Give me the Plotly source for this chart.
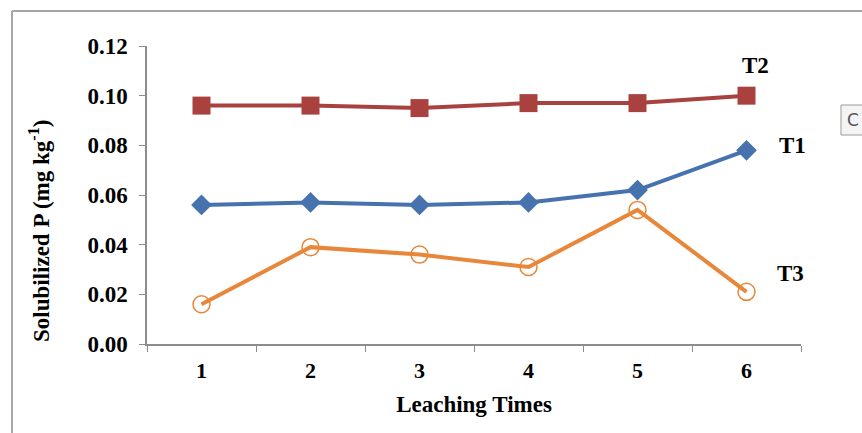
import plotly.graph_objects as go

leaching_times = ["1", "2", "3", "4", "5", "6"]
t1_values = [0.056, 0.057, 0.056, 0.057, 0.062, 0.078]
t2_values = [0.096, 0.096, 0.095, 0.097, 0.097, 0.100]
t3_values = [0.016, 0.039, 0.036, 0.031, 0.054, 0.021]
y_ticks = [0.00, 0.02, 0.04, 0.06, 0.08, 0.10, 0.12]
y_tick_labels = ["0.00", "0.02", "0.04", "0.06", "0.08", "0.10", "0.12"]

FONT = "Liberation Serif"
W, H = 862, 433
L, R, T, B = 147, 61, 46, 89

fig = go.Figure()
fig.add_trace(go.Scatter(x=leaching_times, y=t2_values, mode="lines+markers", name="T2",
                         line=dict(color="#A9423F", width=4),
                         marker=dict(symbol="square", size=18, color="#A9423F")))
fig.add_trace(go.Scatter(x=leaching_times, y=t1_values, mode="lines+markers", name="T1",
                         line=dict(color="#4672AE", width=4),
                         marker=dict(symbol="diamond", size=16, color="#4672AE")))
fig.add_trace(go.Scatter(x=leaching_times, y=t3_values, mode="lines+markers", name="T3",
                         line=dict(color="#E8873A", width=4),
                         marker=dict(symbol="circle-open", size=17, color="#E8873A",
                                     line=dict(width=1.5, color="#E8873A"))))

axis_color = "#8C8C8C"
fig.update_layout(
    width=W, height=H,
    margin=dict(l=L, r=R, t=T, b=B),
    paper_bgcolor="white", plot_bgcolor="white",
    showlegend=False,
    font=dict(family=FONT, color="black", size=23),
    xaxis=dict(type="category", range=[-0.5, 5.5], tickson="boundaries", ticks="outside", ticklen=6,
               tickcolor=axis_color, showline=True, linecolor=axis_color, linewidth=1.5,
               showgrid=False, tickfont=dict(family=FONT, size=22, weight="bold"),
               ticklabelstandoff=6,
               title=dict(text="<b>Leaching Times</b>", font=dict(family=FONT, size=23), standoff=14)),
    yaxis=dict(range=[0, 0.12], tickvals=y_ticks, ticktext=y_tick_labels, ticks="outside",
               ticklen=6, tickcolor=axis_color, showline=True, linecolor=axis_color,
               linewidth=1.5, showgrid=False, zeroline=False, ticklabelstandoff=7,
               tickfont=dict(family=FONT, size=23, weight="bold")),
)

pw, ph = W - L - R, H - T - B
def px(xp): return (xp - L) / pw
def py(yp): return (H - B - yp) / ph

# y-axis title (positioned as in original, lower than centre)
fig.add_annotation(text="<b>Solubilized P (mg kg<sup>-1</sup>)</b>", textangle=-90,
                   xref="paper", yref="paper", x=px(39), y=py(231),
                   xanchor="center", yanchor="middle", showarrow=False,
                   font=dict(family=FONT, size=23, color="black"))

# series labels
fig.add_annotation(text="<b>T2</b>", x=5, y=t2_values[5], xref="x", yref="y", xshift=9, yshift=30,
                   showarrow=False, font=dict(family=FONT, size=23, color="black"))
fig.add_annotation(text="<b>T1</b>", x=5, y=t1_values[5], xref="x", yref="y", xshift=46, yshift=5,
                   showarrow=False, font=dict(family=FONT, size=23, color="black"))
fig.add_annotation(text="<b>T3</b>", x=5, y=t3_values[5], xref="x", yref="y", xshift=44, yshift=18,
                   showarrow=False, font=dict(family=FONT, size=23, color="black"))

# outer chart border (top and left edges visible)
fig.add_shape(type="line", xref="paper", yref="paper", x0=px(12), y0=py(11), x1=px(W + 5), y1=py(11),
              line=dict(color="#A6A6A6", width=2))
fig.add_shape(type="line", xref="paper", yref="paper", x0=px(12), y0=py(11), x1=px(12), y1=py(H + 5),
              line=dict(color="#A6A6A6", width=2))
# partial button at right edge
fig.add_shape(type="rect", xref="paper", yref="paper", x0=px(841), y0=py(105), x1=px(W + 10), y1=py(135),
              line=dict(color="#9A9A9A", width=1), fillcolor="#F4F4F4")
fig.add_annotation(text="C", xref="paper", yref="paper", x=px(845), y=py(120), xanchor="left",
                   yanchor="middle", showarrow=False, font=dict(family="DejaVu Sans", size=17, color="#555"))

fig.write_html("out.html", config={"displayModeBar": False},
               post_script="document.body.style.margin='0';document.body.style.overflow='hidden';")
